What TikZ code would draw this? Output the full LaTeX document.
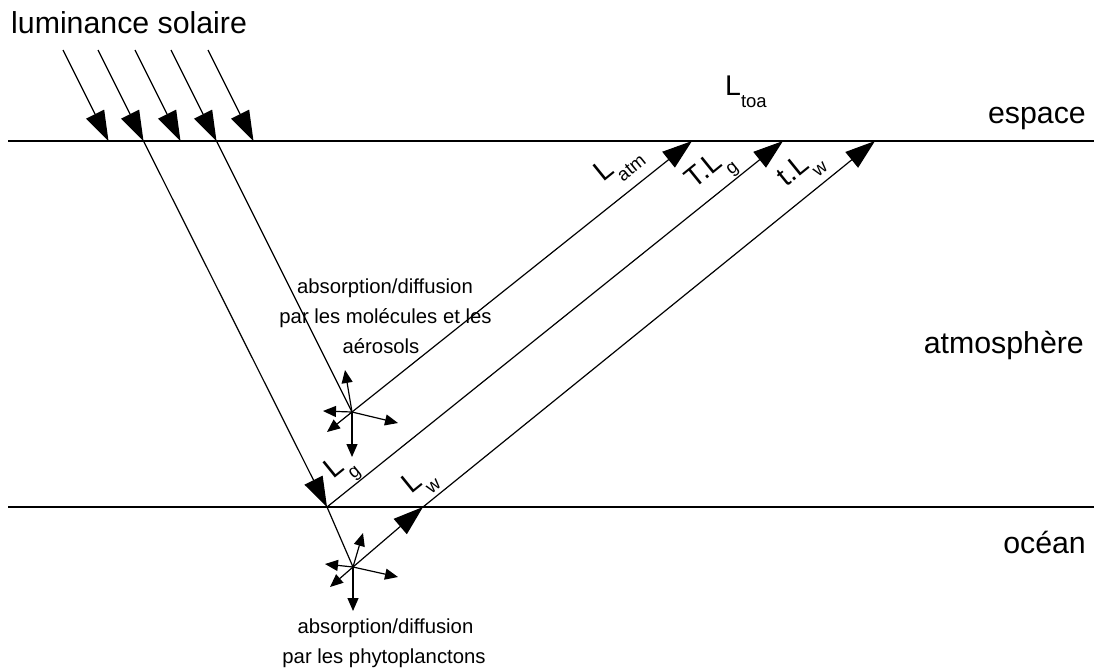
\documentclass[tikz,border=0pt]{standalone}
\usepackage{fontspec}
\setmainfont{Liberation Sans}
\usetikzlibrary{arrows.meta}
\newcommand{\subtxt}[1]{\raisebox{-12pt}{\fontsize{18.5pt}{18.5pt}\selectfont #1}}
\begin{document}
\begin{tikzpicture}[x=1pt,y=-1pt,
  bigarrow/.style={line width=1.2pt,-{Triangle[length=30pt,width=20pt]}},
  smallarrow/.style={line width=1.2pt,-{Triangle[length=13pt,width=11pt]}},
  ray/.style={line width=1.2pt},
  level/.style={line width=1.6pt},
  bigtxt/.style={font=\fontsize{30.3pt}{31pt}\selectfont, inner sep=0pt},
  lbl/.style={font=\fontsize{28.5pt}{30pt}\selectfont, inner sep=0pt, rotate=39, anchor=base west},
  smalltxt/.style={font=\fontsize{20.3pt}{30pt}\selectfont, inner sep=0pt, anchor=base},
]
\useasboundingbox (0,0) rectangle (1094,670);
% levels
\coordinate (ls) at (8,141); \coordinate (le) at (1094,141);
\coordinate (os) at (8,507); \coordinate (oe) at (1094,507);
\draw[level] (ls) -- (le);
\draw[level] (os) -- (oe);
% sun rays
\coordinate (s1) at (63,50);  \coordinate (t1) at (108.5,141);
\coordinate (s2) at (98,50);  \coordinate (t2) at (143.5,141);
\coordinate (s3) at (135,50); \coordinate (t3) at (180.5,141);
\coordinate (s4) at (171,50); \coordinate (t4) at (216.5,141);
\coordinate (s5) at (208,50); \coordinate (t5) at (253.5,141);
\foreach \i in {1,...,5} \draw[bigarrow] (s\i) -- (t\i);
% key points
\coordinate (G) at (327,507);
\coordinate (A) at (352,412);
\coordinate (W) at (353,567);
\coordinate (S) at (423,507);
\coordinate (Ta) at (692,141);
\coordinate (Tg) at (783,141);
\coordinate (Tw) at (875,141);
\draw[bigarrow] (t2) -- (G);
\draw[ray] (t4) -- (A);
\draw[ray] (G) -- (W);
\draw[bigarrow] (A) -- (Ta);
\draw[bigarrow] (G) -- (Tg);
\draw[bigarrow] (W) -- (S);
\draw[bigarrow] (S) -- (Tw);
% atmospheric scattering
\coordinate (a1) at (345,370); \coordinate (a2) at (323,411);
\coordinate (a3) at (327,432); \coordinate (a4) at (398,423);
\coordinate (a5) at (352,457);
\foreach \i in {1,...,5} \draw[smallarrow] (A) -- (a\i);
% ocean scattering
\coordinate (w1) at (363,533); \coordinate (w2) at (325,564);
\coordinate (w3) at (330,587); \coordinate (w4) at (398,577);
\coordinate (w5) at (353,611);
\foreach \i in {1,...,5} \draw[smallarrow] (W) -- (w\i);
% texts
\node[bigtxt, anchor=base west] (lum) at (11,33) {luminance solaire};
\node[bigtxt, anchor=base east] (esp) at (1086,123) {espace};
\node[bigtxt, anchor=base east] (atm) at (1084,353) {atmosphère};
\node[bigtxt, anchor=base east] (oce) at (1086,553) {océan};
\node[font=\fontsize{28.5pt}{30pt}\selectfont, inner sep=0pt, anchor=base west] (ltoa) at (725,95) {L\subtxt{toa}};
\node[lbl] (latm) at (603,183) {L\subtxt{atm}};
\node[lbl] (tlg) at (694,190) {T.L\subtxt{g}};
\node[lbl] (tlw) at (786,188) {t.L\subtxt{w}};
\node[lbl] (lg) at (333.5,480) {L\subtxt{g}};
\node[lbl] (lw) at (411.5,495) {L\subtxt{w}};
\node[smalltxt] (ab1) at (385,293) {absorption/diffusion};
\node[smalltxt] (ab2) at (385.5,323) {par les molécules et les};
\node[smalltxt] (ab3) at (381,353) {aérosols};
\node[smalltxt] (ob1) at (385.5,633) {absorption/diffusion};
\node[smalltxt] (ob2) at (384,663) {par les phytoplanctons};
\end{tikzpicture}
\end{document}
